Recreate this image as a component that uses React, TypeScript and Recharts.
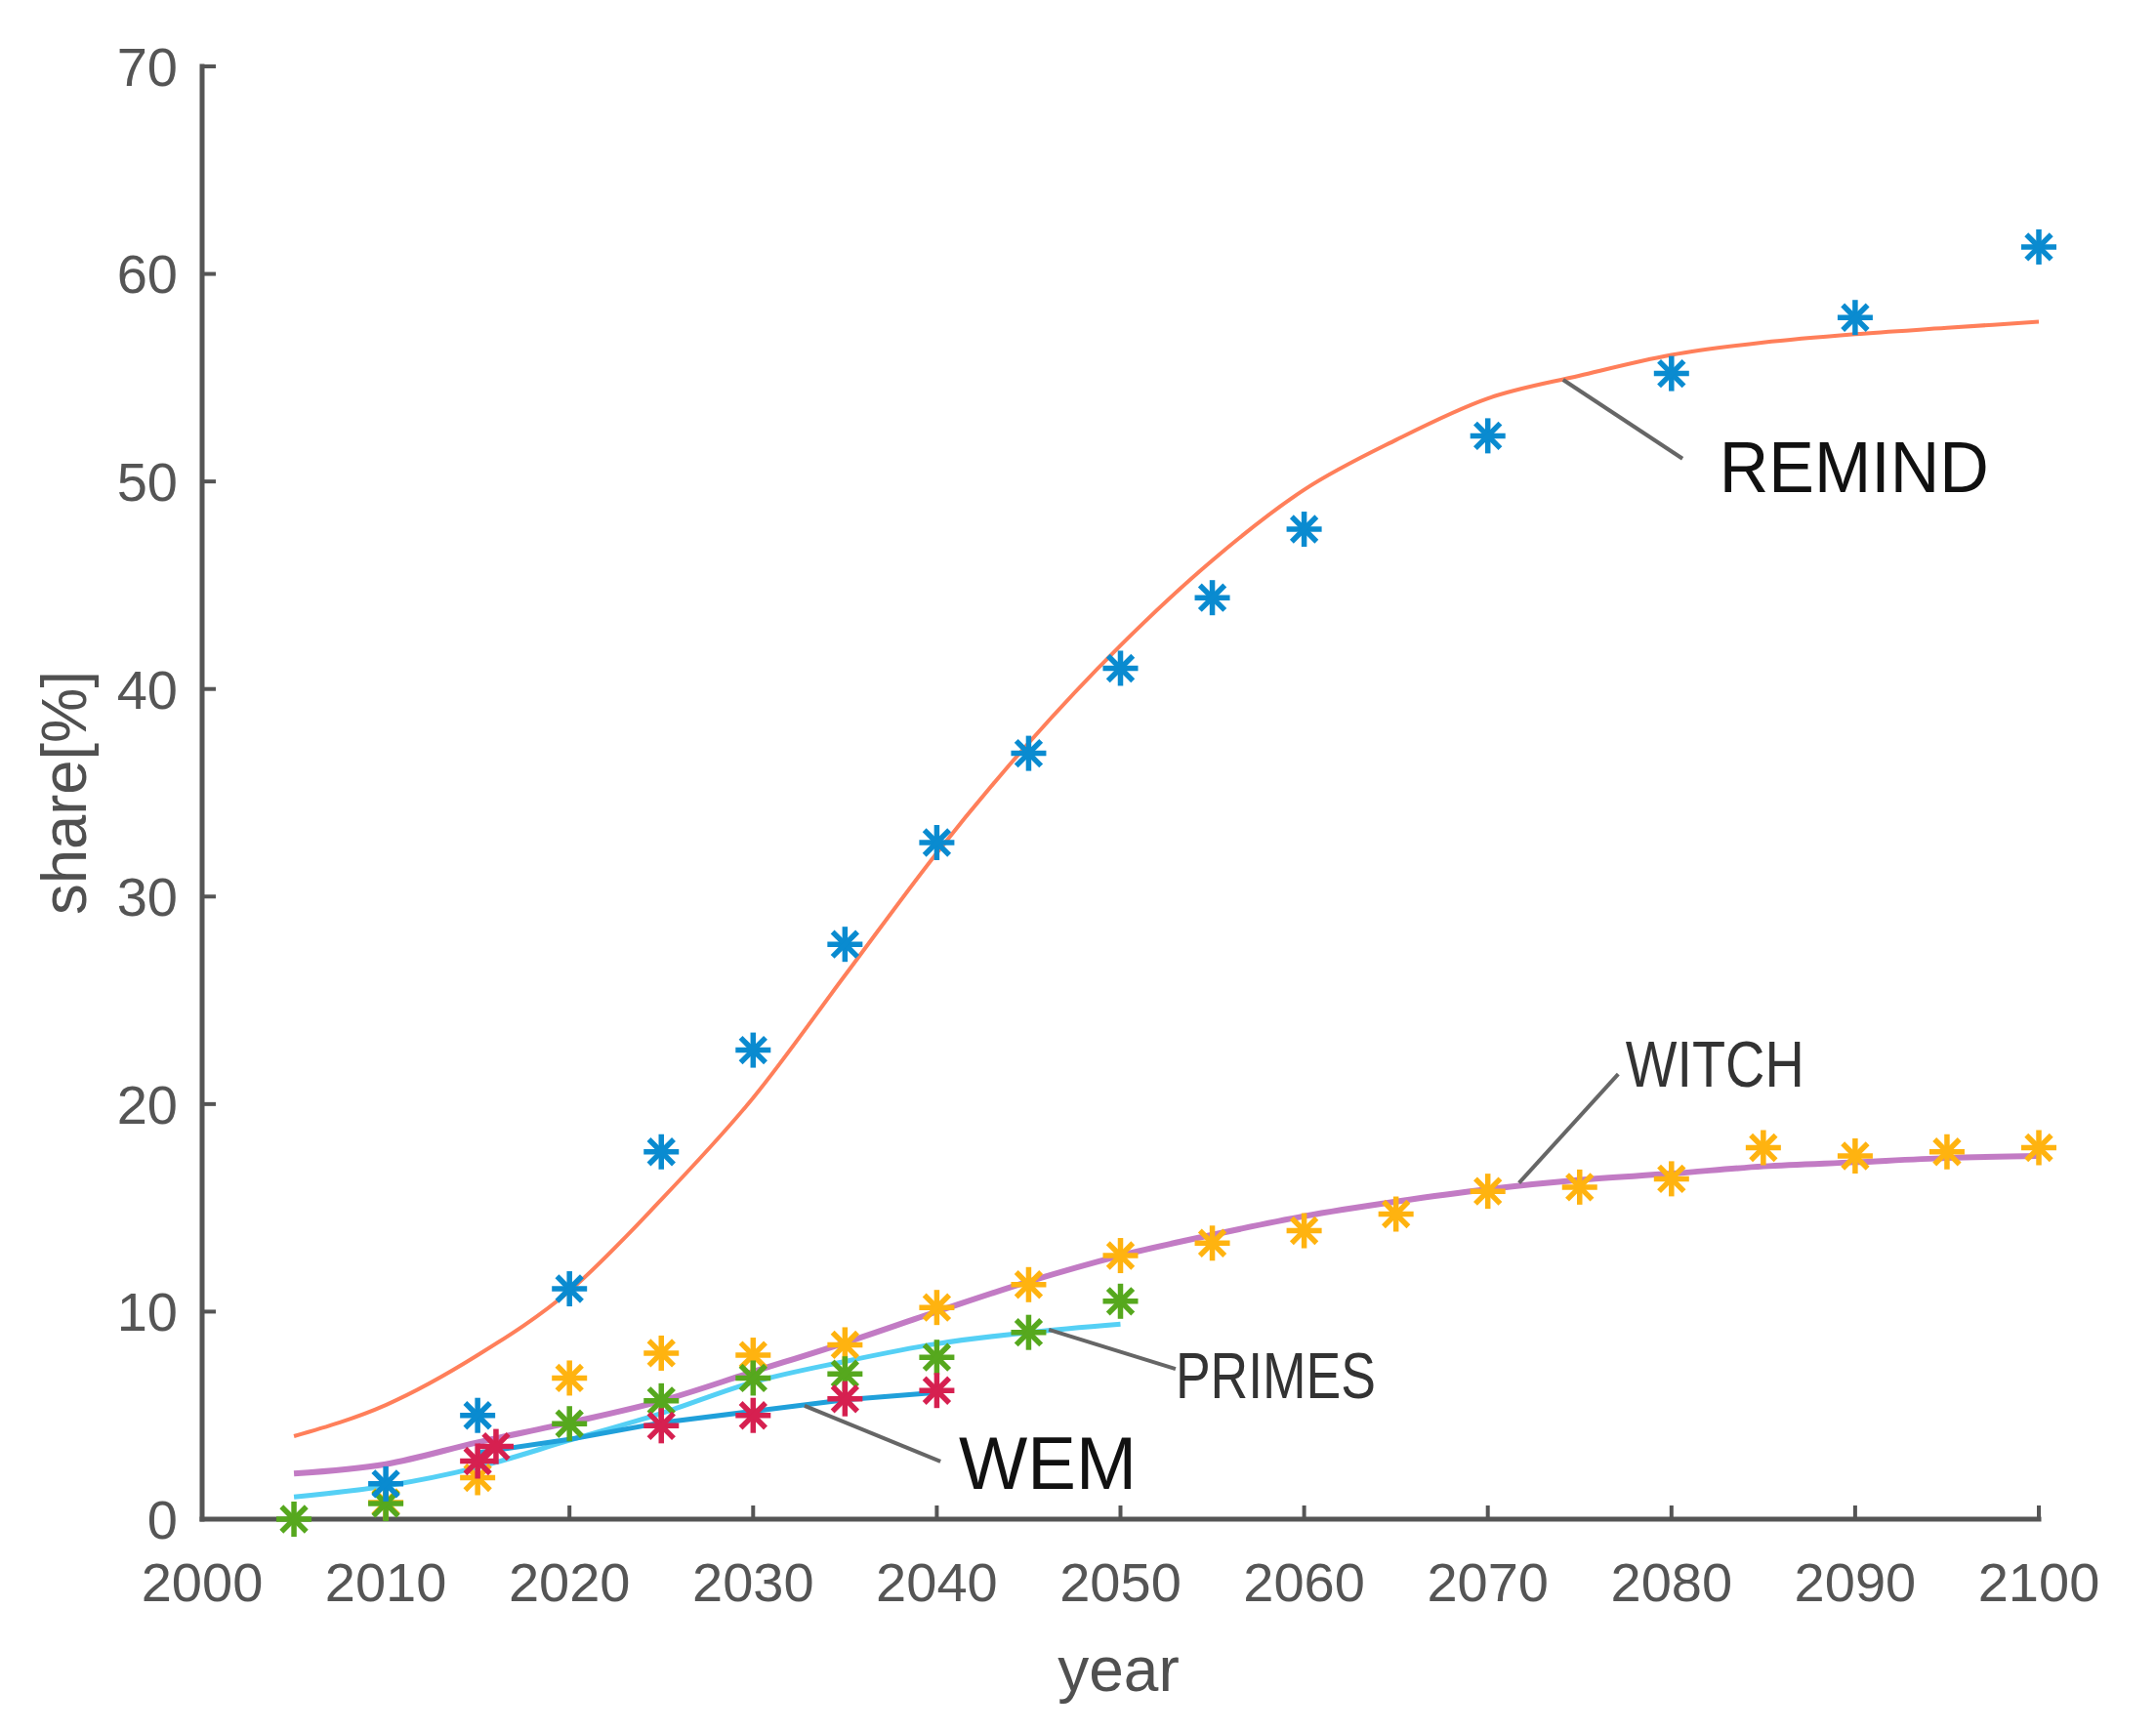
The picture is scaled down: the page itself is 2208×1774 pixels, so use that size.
import React from "react";
import {
  ComposedChart,
  Line,
  Scatter,
  XAxis,
  YAxis,
  ReferenceLine,
  ReferenceDot,
  Label,
} from "recharts";

// years 2005..2100 every 5 years for the fitted curves
const CURVE_YEARS = [
  2005, 2010, 2015, 2020, 2025, 2030, 2035, 2040, 2045, 2050,
  2055, 2060, 2065, 2070, 2075, 2080, 2085, 2090, 2095, 2100,
];
const REMIND_FIT = [
  4.0, 5.5, 7.9, 11.0, 15.4, 20.3, 26.2, 32.1, 37.4, 42.1,
  46.2, 49.6, 52.0, 54.0, 55.1, 56.1, 56.7, 57.1, 57.4, 57.7,
];
const WITCH_FIT = [
  2.2, 2.65, 3.7, 4.65, 5.7, 7.1, 8.5, 10.0, 11.45, 12.7,
  13.7, 14.6, 15.3, 15.9, 16.35, 16.65, 17.0, 17.2, 17.4, 17.5,
];

const PRIMES_FIT_YEARS = [2005, 2010, 2015, 2020, 2025, 2030, 2035, 2040, 2045, 2050];
const PRIMES_FIT = [1.07, 1.6, 2.5, 3.8, 5.1, 6.6, 7.6, 8.45, 9.0, 9.4];

const WEM_FIT_YEARS = [2015, 2020, 2025, 2030, 2035, 2040];
const WEM_FIT = [3.2, 3.85, 4.65, 5.2, 5.75, 6.1];

// model results (asterisks)
const REMIND_YEARS = [2010, 2015, 2020, 2025, 2030, 2035, 2040, 2045, 2050, 2055, 2060, 2070, 2080, 2090, 2100];
const REMIND_VALUES = [1.7, 5.0, 11.1, 17.7, 22.6, 27.7, 32.6, 36.9, 41.0, 44.4, 47.7, 52.2, 55.2, 57.9, 61.3];

const WITCH_YEARS = [
  2010, 2015, 2020, 2025, 2030, 2035, 2040, 2045, 2050, 2055,
  2060, 2065, 2070, 2075, 2080, 2085, 2090, 2095, 2100,
];
const WITCH_VALUES = [
  0.8, 2.0, 6.8, 8.0, 7.9, 8.4, 10.2, 11.3, 12.7, 13.3,
  13.9, 14.7, 15.8, 16.0, 16.4, 17.9, 17.5, 17.7, 17.9,
];

const PRIMES_YEARS = [2005, 2010, 2020, 2025, 2030, 2035, 2040, 2045, 2050];
const PRIMES_VALUES = [0.0, 0.75, 4.6, 5.7, 6.8, 7.0, 7.8, 9.0, 10.5];

const WEM_YEARS = [2015, 2016, 2025, 2030, 2035, 2040];
const WEM_VALUES = [2.8, 3.5, 4.5, 5.0, 5.8, 6.2];

const X_TICKS = [2000, 2010, 2020, 2030, 2040, 2050, 2060, 2070, 2080, 2090, 2100];
const Y_TICKS = [0, 10, 20, 30, 40, 50, 60, 70];

// callouts: leader from -> to, then label anchor (left end, baseline)
const CALLOUTS = [
  { name: "REMIND", from: [2074.1, 54.9], to: [2080.6, 51.1], at: [2082.6, 49.5], size: 75, len: 276, color: "#111" },
  { name: "WITCH", from: [2071.7, 16.2], to: [2077.1, 21.45], at: [2077.5, 20.85], size: 66, len: 183, color: "#333" },
  { name: "PRIMES", from: [2046.1, 9.13], to: [2053.0, 7.24], at: [2053.0, 5.83], size: 66, len: 205, color: "#333" },
  { name: "WEM", from: [2032.8, 5.46], to: [2040.2, 2.78], at: [2041.2, 1.46], size: 76, len: 182, color: "#111" },
];

const zip = (years: number[], values: number[]) =>
  years.map((year, i) => ({ year, v: values[i] }));

const starShape = (color: string) => (props: any) => {
  const { cx, cy } = props;
  if (cx == null || cy == null) return null;
  const r = 18;
  const d = r * 0.7071;
  return (
    <g stroke={color} strokeWidth={5.5}>
      <line x1={cx - r} y1={cy} x2={cx + r} y2={cy} />
      <line x1={cx} y1={cy - r} x2={cx} y2={cy + r} />
      <line x1={cx - d} y1={cy - d} x2={cx + d} y2={cy + d} />
      <line x1={cx - d} y1={cy + d} x2={cx + d} y2={cy - d} />
    </g>
  );
};

const calloutText = (c: (typeof CALLOUTS)[number]) => (props: any) => (
  <text
    x={props.cx}
    y={props.cy}
    fontSize={c.size}
    fill={c.color}
    textLength={c.len}
    lengthAdjust="spacingAndGlyphs"
  >
    {c.name}
  </text>
);

const axisColor = "#555";

export default function App() {
  return (
    <div style={{ fontFamily: "'Liberation Sans', Arial, sans-serif" }}>
      <ComposedChart
        width={2192}
        height={1758}
        margin={{ top: 60, right: 112, left: 0, bottom: 0 }}
      >
        <XAxis
          type="number"
          dataKey="year"
          domain={[2000, 2100]}
          ticks={X_TICKS}
          interval={0}
          height={210}
          tickSize={-14}
          tickMargin={58}
          axisLine={{ stroke: axisColor, strokeWidth: 5, strokeLinecap: "square" }}
          tickLine={{ stroke: axisColor, strokeWidth: 4 }}
          tick={{ fill: "#555", fontSize: 56 }}
        >
          <Label
            content={(p: any) => {
              const vb = p.viewBox || { x: 199, y: 1548, width: 1881 };
              return (
                <text
                  x={vb.x + vb.width / 2 - 2}
                  y={vb.y + 176}
                  textAnchor="middle"
                  fontSize={64}
                  fill="#505050"
                >
                  year
                </text>
              );
            }}
          />
        </XAxis>
        <YAxis
          type="number"
          dataKey="v"
          domain={[0, 70]}
          ticks={Y_TICKS}
          interval={0}
          width={199}
          tickSize={-14}
          tickMargin={39}
          axisLine={{ stroke: axisColor, strokeWidth: 5, strokeLinecap: "square" }}
          tickLine={{ stroke: axisColor, strokeWidth: 4 }}
          tick={{ fill: "#555", fontSize: 56 }}
        >
          <Label
            content={(p: any) => {
              const vb = p.viewBox || { x: 0, y: 60, height: 1488 };
              const x = vb.x + 58;
              const y = vb.y + vb.height / 2;
              return (
                <text
                  x={x}
                  y={y}
                  transform={`rotate(-90 ${x} ${y})`}
                  textAnchor="middle"
                  dominantBaseline="central"
                  fontSize={64}
                  fill="#505050"
                  textLength={250}
                  lengthAdjust="spacingAndGlyphs"
                >
                  share[%]
                </text>
              );
            }}
          />
        </YAxis>

        <Line
          data={zip(CURVE_YEARS, REMIND_FIT)}
          dataKey="v"
          type="monotone"
          stroke="#ff7f5a"
          strokeWidth={4}
          dot={false}
          isAnimationActive={false}
        />
        <Line
          data={zip(CURVE_YEARS, WITCH_FIT)}
          dataKey="v"
          type="monotone"
          stroke="#c27bc4"
          strokeWidth={6}
          dot={false}
          isAnimationActive={false}
        />
        <Line
          data={zip(PRIMES_FIT_YEARS, PRIMES_FIT)}
          dataKey="v"
          type="monotone"
          stroke="#55d0f5"
          strokeWidth={5}
          dot={false}
          isAnimationActive={false}
        />
        <Line
          data={zip(WEM_FIT_YEARS, WEM_FIT)}
          dataKey="v"
          type="linear"
          stroke="#20a0da"
          strokeWidth={5}
          dot={false}
          isAnimationActive={false}
        />

        <Scatter
          data={zip(WITCH_YEARS, WITCH_VALUES)}
          dataKey="v"
          shape={starShape("#ffb310")}
          isAnimationActive={false}
        />
        <Scatter
          data={zip(PRIMES_YEARS, PRIMES_VALUES)}
          dataKey="v"
          shape={starShape("#56a81e")}
          isAnimationActive={false}
        />
        <Scatter
          data={zip(WEM_YEARS, WEM_VALUES)}
          dataKey="v"
          shape={starShape("#d62050")}
          isAnimationActive={false}
        />
        <Scatter
          data={zip(REMIND_YEARS, REMIND_VALUES)}
          dataKey="v"
          shape={starShape("#0a8bd0")}
          isAnimationActive={false}
        />

        {CALLOUTS.map((c) => (
          <ReferenceLine
            key={c.name + "-leader"}
            segment={[
              { x: c.from[0], y: c.from[1] },
              { x: c.to[0], y: c.to[1] },
            ]}
            stroke="#666"
            strokeWidth={4}
          />
        ))}
        {CALLOUTS.map((c) => (
          <ReferenceDot
            key={c.name + "-label"}
            x={c.at[0]}
            y={c.at[1]}
            r={1}
            shape={calloutText(c)}
          />
        ))}
      </ComposedChart>
    </div>
  );
}
